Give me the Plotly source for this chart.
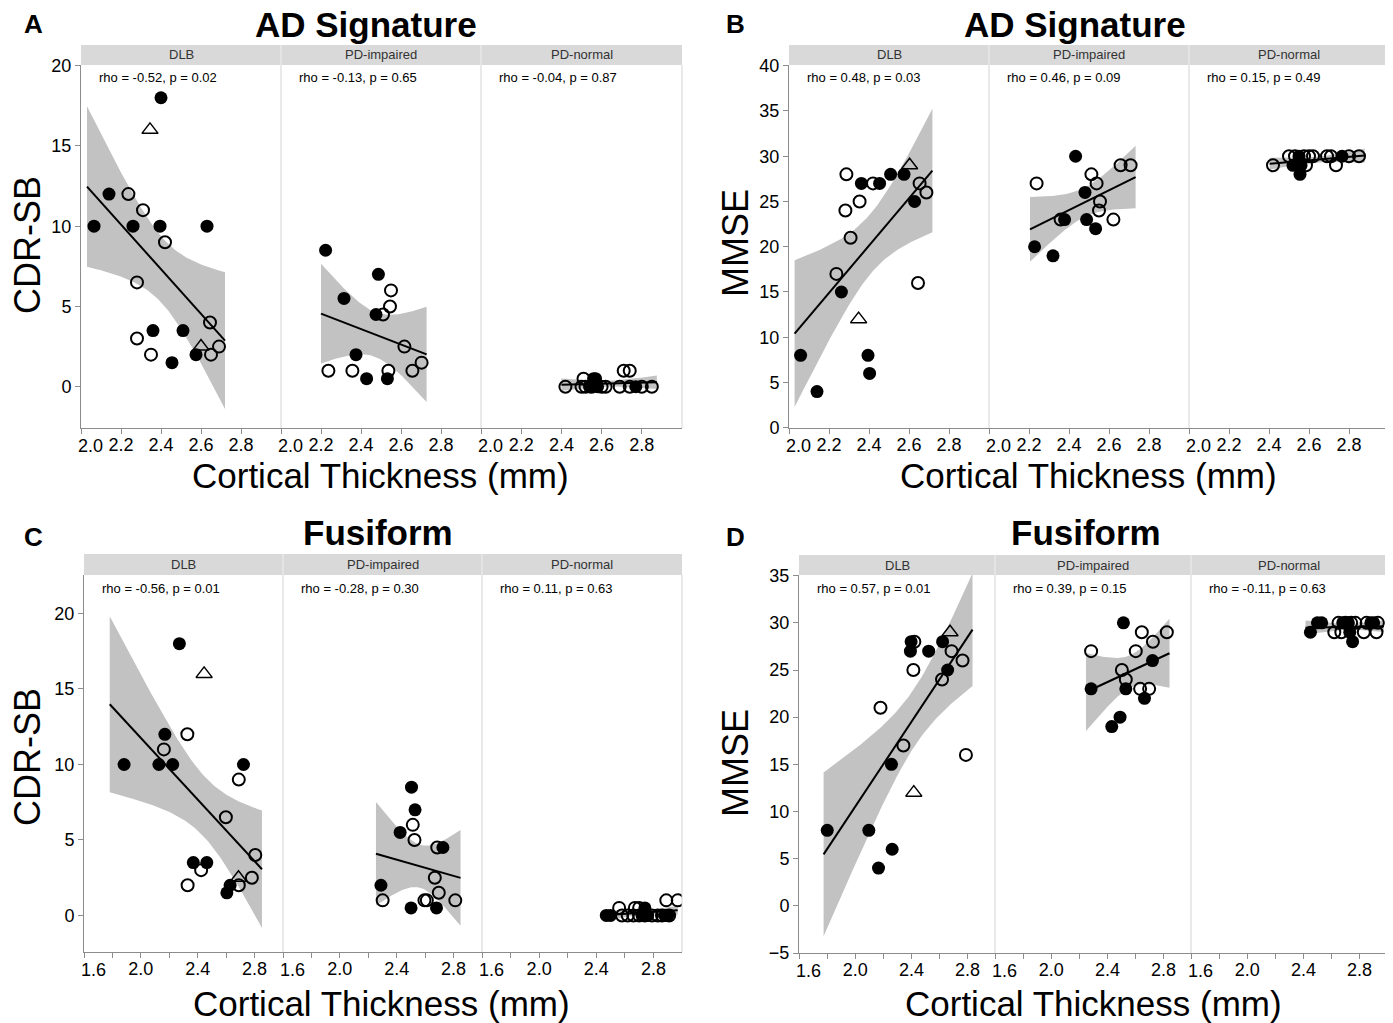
import numpy as np
import plotly.graph_objects as go

W, H = 1393, 1023
OFF = 8  # the page body adds an 8 px offset; compensate so the layout lands where the reference has it
FONT = "Liberation Sans, Arial, Helvetica, sans-serif"

# ---------------- data ----------------
facets = ["DLB", "PD-impaired", "PD-normal"]

# Panel A: AD Signature vs CDR-SB
A_dlb_x = [2.40, 2.345, 2.14, 2.237, 2.31, 2.065, 2.26, 2.395, 2.63, 2.42, 2.28, 2.645, 2.36, 2.51, 2.28, 2.60, 2.35, 2.575, 2.65, 2.69, 2.455]
A_dlb_y = [18, 16, 12, 12, 11, 10, 10, 10, 10, 9, 6.5, 4, 3.5, 3.5, 3, 2.5, 2, 2, 2, 2.5, 1.5]
A_dlb_m = ['f', 't', 'f', 'o', 'o', 'f', 'f', 'f', 'f', 'o', 'o', 'o', 'f', 'f', 'o', 't', 'o', 'f', 'o', 'o', 'f']
A_pdi_x = [2.223, 2.487, 2.55, 2.315, 2.545, 2.475, 2.51, 2.617, 2.375, 2.237, 2.357, 2.537, 2.657, 2.703, 2.428, 2.532]
A_pdi_y = [8.5, 7, 6, 5.5, 5, 4.5, 4.5, 2.5, 2, 1, 1, 1, 1, 1.5, 0.5, 0.5]
A_pdi_m = ['f', 'f', 'o', 'f', 'o', 'f', 'o', 'o', 'f', 'o', 'o', 'o', 'o', 'o', 'f', 'f']
A_pdn_x = [2.42, 2.50, 2.51, 2.52, 2.54, 2.55, 2.56, 2.57, 2.58, 2.60, 2.62, 2.69, 2.71, 2.74, 2.74, 2.77, 2.80, 2.85]
A_pdn_y = [0, 0, 0.5, 0, 0, 0, 0.5, 0.5, 0, 0, 0, 0, 1, 1, 0, 0, 0, 0]
A_pdn_m = ['o', 'o', 'o', 'o', 'f', 'o', 'f', 'f', 'f', 'o', 'o', 'o', 'o', 'o', 'o', 'f', 'o', 'o']
A_rho = ["rho = -0.52, p = 0.02", "rho = -0.13, p = 0.65", "rho = -0.04, p = 0.87"]
A_fit_min = [2.03, 2.20, 2.40]
A_fit_max = [2.72, 2.728, 2.875]

# Panel B: AD Signature vs MMSE
B_dlb_x = [2.287, 2.362, 2.42, 2.453, 2.508, 2.575, 2.603, 2.653, 2.687, 2.628, 2.353, 2.282, 2.308, 2.237, 2.262, 2.645, 2.348, 2.058, 2.395, 2.403, 2.14]
B_dlb_y = [28, 27, 27, 27, 28, 28, 29, 27, 26, 25, 25, 24, 21, 17, 15, 16, 12, 8, 8, 6, 4]
B_dlb_m = ['o', 'f', 'o', 'f', 'f', 'f', 't', 'o', 'o', 'f', 'o', 'o', 'o', 'o', 'f', 'o', 't', 'f', 'f', 'f', 'f']
B_pdi_x = [2.433, 2.658, 2.708, 2.512, 2.238, 2.538, 2.48, 2.555, 2.55, 2.358, 2.378, 2.488, 2.622, 2.533, 2.228, 2.32]
B_pdi_y = [30, 29, 29, 28, 27, 27, 26, 25, 24, 23, 23, 23, 23, 22, 20, 19]
B_pdi_m = ['f', 'o', 'o', 'o', 'o', 'o', 'f', 'o', 'o', 'o', 'f', 'f', 'o', 'f', 'f', 'f']
B_pdn_x = [2.42, 2.50, 2.52, 2.53, 2.55, 2.555, 2.56, 2.575, 2.585, 2.60, 2.62, 2.69, 2.71, 2.735, 2.765, 2.80, 2.85]
B_pdn_y = [29, 30, 29, 30, 30, 28, 29, 30, 29, 30, 30, 30, 30, 29, 30, 30, 30]
B_pdn_m = ['o', 'o', 'f', 'o', 'f', 'f', 'f', 'o', 'o', 'o', 'o', 'o', 'o', 'o', 'f', 'o', 'o']
B_rho = ["rho = 0.48, p = 0.03", "rho = 0.46, p = 0.09", "rho = 0.15, p = 0.49"]
B_fit_min = [2.028, 2.205, 2.403]
B_fit_max = [2.717, 2.733, 2.878]

# Panel C: Fusiform vs CDR-SB
C_dlb_x = [2.271, 2.445, 2.327, 2.169, 2.162, 1.882, 2.127, 2.224, 2.722, 2.689, 2.598, 2.805, 2.369, 2.464, 2.424, 2.687, 2.781, 2.329, 2.628, 2.689, 2.605]
C_dlb_y = [18, 16, 12, 12, 11, 10, 10, 10, 10, 9, 6.5, 4, 3.5, 3.5, 3, 2.5, 2.5, 2, 2, 2, 1.5]
C_dlb_m = ['f', 't', 'o', 'f', 'o', 'f', 'f', 'f', 'f', 'o', 'o', 'o', 'f', 'f', 'o', 't', 'o', 'o', 'f', 'o', 'f']
C_pdi_x = [2.504, 2.529, 2.513, 2.424, 2.525, 2.685, 2.725, 2.668, 2.696, 2.289, 2.301, 2.595, 2.612, 2.812, 2.501, 2.68]
C_pdi_y = [8.5, 7, 6, 5.5, 5, 4.5, 4.5, 2.5, 1.5, 2, 1, 1, 1, 1, 0.5, 0.5]
C_pdi_m = ['f', 'f', 'o', 'f', 'o', 'o', 'f', 'o', 'o', 'f', 'o', 'o', 'o', 'o', 'f', 'f']
C_pdn_x = [2.47, 2.50, 2.56, 2.58, 2.62, 2.66, 2.67, 2.70, 2.70, 2.72, 2.74, 2.74, 2.76, 2.79, 2.83, 2.86, 2.88, 2.89, 2.90, 2.91, 2.97]
C_pdn_y = [0, 0, 0.5, 0, 0, 0, 0.5, 0, 0.5, 0, 0, 0.5, 0, 0, 0, 0, 0, 1, 0, 0, 1]
C_pdn_m = ['f', 'f', 'o', 'o', 'o', 'o', 'o', 'o', 'o', 'f', 'o', 'f', 'f', 'o', 'o', 'o', 'f', 'o', 'f', 'o', 'o']
C_rho = ["rho = -0.56, p = 0.01", "rho = -0.28, p = 0.30", "rho = 0.11, p = 0.63"]
C_fit_min = [1.781, 2.254, 2.454]
C_fit_max = [2.852, 2.849, 2.97]

# Panel D: Fusiform vs MMSE
D_dlb_x = [2.675, 2.398, 2.421, 2.622, 2.393, 2.523, 2.686, 2.764, 2.414, 2.658, 2.618, 2.18, 2.343, 2.258, 2.788, 2.417, 1.801, 2.097, 2.263, 2.166]
D_dlb_y = [29, 28, 28, 28, 27, 27, 27, 26, 25, 25, 24, 21, 17, 15, 16, 12, 8, 8, 6, 4]
D_dlb_m = ['t', 'f', 'o', 'f', 'f', 'f', 'o', 'o', 'o', 'f', 'o', 'o', 'o', 'f', 'o', 't', 'f', 'f', 'f', 'f']
D_pdi_x = [2.514, 2.645, 2.823, 2.724, 2.284, 2.602, 2.721, 2.503, 2.531, 2.284, 2.531, 2.633, 2.697, 2.664, 2.49, 2.431]
D_pdi_y = [30, 29, 29, 28, 27, 27, 26, 25, 24, 23, 23, 23, 23, 22, 20, 19]
D_pdi_m = ['f', 'o', 'o', 'o', 'o', 'o', 'f', 'o', 'o', 'f', 'f', 'o', 'o', 'f', 'f', 'f']
D_pdn_x = [2.45, 2.50, 2.53, 2.62, 2.65, 2.67, 2.68, 2.70, 2.72, 2.73, 2.74, 2.75, 2.77, 2.83, 2.85, 2.88, 2.90, 2.92, 2.93]
D_pdn_y = [29, 30, 30, 29, 30, 29, 30, 30, 30, 29, 30, 28, 30, 29, 30, 30, 30, 29, 30]
D_pdn_m = ['f', 'f', 'f', 'o', 'o', 'o', 'f', 'o', 'f', 'f', 'o', 'f', 'o', 'o', 'o', 'f', 'f', 'o', 'o']
D_rho = ["rho = 0.57, p = 0.01", "rho = 0.39, p = 0.15", "rho = -0.11, p = 0.63"]
D_fit_min = [1.775, 2.248, 2.415]
D_fit_max = [2.835, 2.842, 2.973]

panel_letters = ["A", "B", "C", "D"]
panel_titles = ["AD Signature", "AD Signature", "Fusiform", "Fusiform"]
y_titles = ["CDR-SB", "MMSE", "CDR-SB", "MMSE"]
x_title = "Cortical Thickness (mm)"

A_y_ticks = [0, 5, 10, 15, 20]
B_y_ticks = [0, 5, 10, 15, 20, 25, 30, 35, 40]
C_y_ticks = [0, 5, 10, 15, 20]
D_y_ticks = [-5, 0, 5, 10, 15, 20, 25, 30, 35]
AB_x_ticks = [2.0, 2.2, 2.4, 2.6, 2.8]
CD_x_ticks = [1.6, 2.0, 2.4, 2.8]
CD_x_minor = [1.8, 2.2, 2.6]

panels = [
    dict(data=[(A_dlb_x, A_dlb_y, A_dlb_m), (A_pdi_x, A_pdi_y, A_pdi_m), (A_pdn_x, A_pdn_y, A_pdn_m)],
         rho=A_rho, fmin=A_fit_min, fmax=A_fit_max, yticks=A_y_ticks),
    dict(data=[(B_dlb_x, B_dlb_y, B_dlb_m), (B_pdi_x, B_pdi_y, B_pdi_m), (B_pdn_x, B_pdn_y, B_pdn_m)],
         rho=B_rho, fmin=B_fit_min, fmax=B_fit_max, yticks=B_y_ticks),
    dict(data=[(C_dlb_x, C_dlb_y, C_dlb_m), (C_pdi_x, C_pdi_y, C_pdi_m), (C_pdn_x, C_pdn_y, C_pdn_m)],
         rho=C_rho, fmin=C_fit_min, fmax=C_fit_max, yticks=C_y_ticks),
    dict(data=[(D_dlb_x, D_dlb_y, D_dlb_m), (D_pdi_x, D_pdi_y, D_pdi_m), (D_pdn_x, D_pdn_y, D_pdn_m)],
         rho=D_rho, fmin=D_fit_min, fmax=D_fit_max, yticks=D_y_ticks),
]

# ---------------- geometry (pixels on the page) ----------------
geom = [
    dict(fx=[(81, 281), (281, 481), (481, 682)], y=(65, 428), strip=(45, 65),
         xr=[2.0, 3.0], yr=[-2.57, 20.04], xt='A', lab_dy=18),
    dict(fx=[(789, 989), (989, 1189), (1189, 1389)], y=(65, 428), strip=(45, 65),
         xr=[2.0, 3.0], yr=[-0.03, 40.08], xt='A', lab_dy=18),
    dict(fx=[(84, 283), (283, 482), (482, 682)], y=(575, 952), strip=(554, 575),
         xr=[1.6, 3.0], yr=[-2.42, 22.55], xt='C', lab_dy=18),
    dict(fx=[(799, 995), (995, 1191), (1191, 1387)], y=(575, 953), strip=(555, 575),
         xr=[1.6, 2.995], yr=[-5.0, 35.07], xt='C', lab_dy=18),
]
letter_pos = [(33, 24), (735, 24), (33, 537), (735, 537)]
title_pos = [(366, 25), (1075, 25), (378, 532), (1086, 532)]
ytitle_pos = [(27, 245), (735, 243), (27, 757), (735, 763)]
xtitle_pos = [(380, 475), (1088, 475), (381, 1003), (1093, 1003)]


def px(x):
    return (x - OFF) / W


def py(y):
    return 1 - (y - OFF) / H


def t_quant(df, z=1.959964):
    return (z + (z**3 + z) / (4 * df) + (5 * z**5 + 16 * z**3 + 3 * z) / (96 * df**2)
            + (3 * z**7 + 19 * z**5 + 17 * z**3 - 15 * z) / (384 * df**3))


AXC = "#8c8c8c"
fig = go.Figure()
layout = dict(width=W, height=H, margin=dict(l=0, r=0, t=0, b=0, pad=0, autoexpand=False),
              paper_bgcolor="white", plot_bgcolor="white", showlegend=False,
              font=dict(family=FONT, color="black"))
shapes = []
annotations = []

symbols = {'f': ('circle', 13, 0), 'o': ('circle-open', 12, 2), 't': ('triangle-up-open', 14, 1.5)}

for p, (pan, g) in enumerate(zip(panels, geom)):
    for f in range(3):
        k = p * 3 + f
        sfx = "" if k == 0 else str(k + 1)
        xa, ya = "x" + sfx, "y" + sfx
        x0, x1 = g["fx"][f]
        tv = AB_x_ticks if g["xt"] == 'A' else CD_x_ticks
        tt = ["%.1f" % v for v in tv]
        first_label = tt[0]
        tt[0] = ""  # first label drawn slightly to the right, as in the reference
        xaxis = dict(domain=[px(x0), px(x1)], anchor=ya, range=g["xr"], showgrid=False,
                     zeroline=False, showline=True, linecolor=AXC, linewidth=1,
                     ticks="outside", tickcolor=AXC, ticklen=5, tickwidth=1,
                     tickmode="array", tickvals=tv, ticktext=tt, ticklabelstandoff=-5,
                     tickfont=dict(size=18, family=FONT, color="black"))
        if g["xt"] != 'A':
            xaxis.update(minor=dict(tickvals=CD_x_minor, ticks="outside", ticklen=5,
                                    tickcolor=AXC, tickwidth=1))
        yaxis = dict(domain=[py(g["y"][1]), py(g["y"][0])], anchor=xa, range=g["yr"],
                     showgrid=False, zeroline=False)
        if f == 0:
            yaxis.update(showline=True, linecolor=AXC, linewidth=1, ticks="outside",
                         tickcolor=AXC, ticklen=5, tickmode="array", tickvals=pan["yticks"],
                         tickfont=dict(size=18, family=FONT, color="black"))
        else:
            yaxis.update(showline=False, showticklabels=False, ticks="")
        layout["xaxis" + sfx] = xaxis
        layout["yaxis" + sfx] = yaxis
        annotations.append(dict(text=first_label, xref=xa, yref=ya + " domain", x=tv[0], y=0,
                                xshift=9, yshift=-g["lab_dy"], showarrow=False,
                                xanchor="center", yanchor="middle",
                                font=dict(size=18, family=FONT, color="black")))

        xs, ys, ms = pan["data"][f]
        xv = np.array(xs, float)
        yv = np.array(ys, float)
        n = len(xv)
        xm, ym = xv.mean(), yv.mean()
        sxx = ((xv - xm) ** 2).sum()
        slope = ((xv - xm) * (yv - ym)).sum() / sxx
        icpt = ym - slope * xm
        resid = yv - (icpt + slope * xv)
        s = np.sqrt((resid ** 2).sum() / (n - 2))
        tq = t_quant(n - 2)
        gx = np.linspace(pan["fmin"][f], pan["fmax"][f], 80)
        fit = icpt + slope * gx
        se = s * np.sqrt(1.0 / n + (gx - xm) ** 2 / sxx)
        up, lo = fit + tq * se, fit - tq * se
        fig.add_trace(go.Scatter(x=np.concatenate([gx, gx[::-1]]), y=np.concatenate([up, lo[::-1]]),
                                 fill="toself", fillcolor="#c2c2c2", line=dict(width=0),
                                 mode="lines", hoverinfo="skip", xaxis=xa, yaxis=ya))
        for key in ['o', 'f', 't']:
            sel = [i for i, m in enumerate(ms) if m == key]
            if not sel:
                continue
            sym, size, lw = symbols[key]
            fig.add_trace(go.Scatter(x=[xs[i] for i in sel], y=[ys[i] for i in sel], mode="markers",
                                     marker=dict(symbol=sym, size=size, color="black",
                                                 line=dict(width=lw, color="black")),
                                     xaxis=xa, yaxis=ya))
        fig.add_trace(go.Scatter(x=gx, y=fit, mode="lines", line=dict(color="black", width=2),
                                 xaxis=xa, yaxis=ya))

        # strip
        s0, s1 = g["strip"]
        shapes.append(dict(type="rect", xref="paper", yref="paper", x0=px(x0), x1=px(x1),
                           y0=py(s1), y1=py(s0), fillcolor="#d9d9d9", line=dict(width=0), layer="below"))
        if f > 0:
            shapes.append(dict(type="line", xref="paper", yref="paper", x0=px(x0), x1=px(x0),
                               y0=py(s1), y1=py(s0), line=dict(color="#efefef", width=1)))
        shapes.append(dict(type="line", xref="paper", yref="paper", x0=px(x1), x1=px(x1),
                           y0=py(g["y"][1]), y1=py(g["y"][0]), line=dict(color="#d4d4d4", width=1)))
        annotations.append(dict(text=facets[f], xref="paper", yref="paper", x=px((x0 + x1) / 2),
                                y=py((s0 + s1) / 2), showarrow=False, xanchor="center", yanchor="middle",
                                font=dict(size=13, family=FONT, color="#333333")))
        annotations.append(dict(text=pan["rho"][f], xref=xa + " domain", yref=ya + " domain",
                                x=16.0 / (x1 - x0), y=1 - 13.0 / (g["y"][1] - g["y"][0]),
                                showarrow=False, xanchor="left", yanchor="middle",
                                font=dict(size=13, family=FONT, color="black")))

    lx, ly = letter_pos[p]
    annotations.append(dict(text="<b>" + panel_letters[p] + "</b>", xref="paper", yref="paper",
                            x=px(lx), y=py(ly), showarrow=False, xanchor="center", yanchor="middle",
                            font=dict(size=26, family=FONT, color="black")))
    tx, ty = title_pos[p]
    annotations.append(dict(text="<b>" + panel_titles[p] + "</b>", xref="paper", yref="paper",
                            x=px(tx), y=py(ty), showarrow=False, xanchor="center", yanchor="middle",
                            font=dict(size=35, family=FONT, color="black")))
    yx, yy = ytitle_pos[p]
    annotations.append(dict(text=y_titles[p], xref="paper", yref="paper", x=px(yx), y=py(yy),
                            showarrow=False, xanchor="center", yanchor="middle", textangle=-90,
                            font=dict(size=36, family=FONT, color="black")))
    xx, xy = xtitle_pos[p]
    annotations.append(dict(text=x_title, xref="paper", yref="paper", x=px(xx), y=py(xy),
                            showarrow=False, xanchor="center", yanchor="middle",
                            font=dict(size=35, family=FONT, color="black")))

layout["shapes"] = shapes
layout["annotations"] = annotations
fig.update_layout(**layout)
fig.write_html("out.html")
